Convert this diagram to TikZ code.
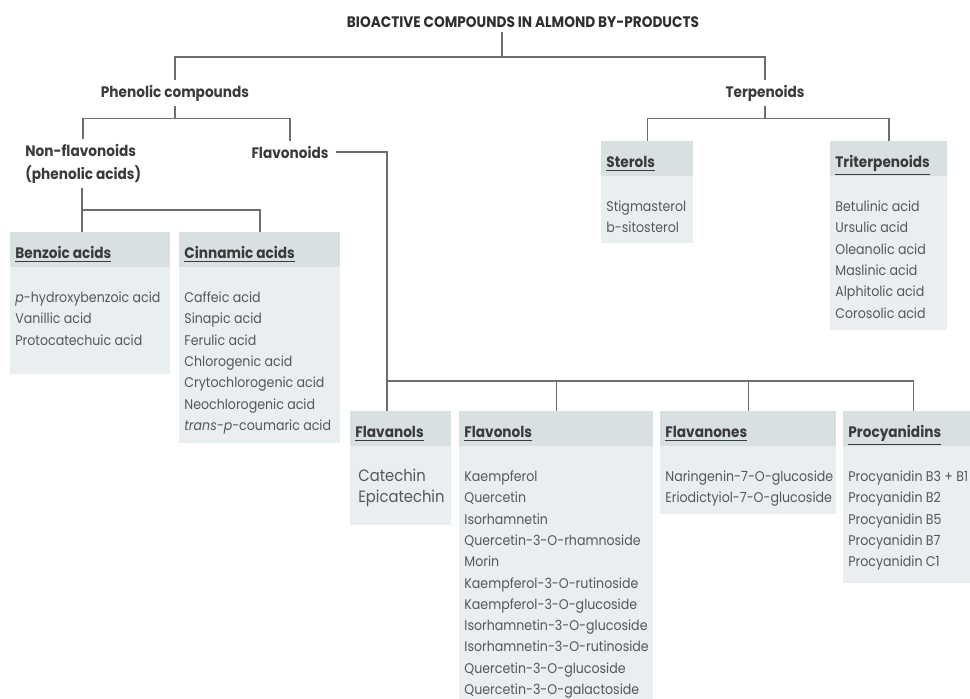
\documentclass[tikz,border=0pt]{standalone}
\usepackage{fontspec}
\setmainfont{Poppins}[FakeStretch=0.9]
\usetikzlibrary{positioning}

\definecolor{boxbody}{HTML}{E9EEF0}
\definecolor{boxhead}{HTML}{D8E0E2}
\definecolor{titlegray}{HTML}{2E2E2E}
\definecolor{headgray}{HTML}{3A3A3A}
\definecolor{entrygray}{HTML}{575757}
\definecolor{linegray}{HTML}{6E6E6E}

\tikzset{
  toptitle/.style={font=\fontsize{7.6}{9}\selectfont\bfseries, text=titlegray, inner sep=2pt},
  branch/.style={font=\fontsize{7.6}{11.5}\selectfont\bfseries, text=headgray, align=left, inner xsep=0pt, inner ysep=2pt},
  groupbox/.style={fill=boxbody, anchor=north west, inner sep=0pt},
  grouphead/.style={fill=boxhead, anchor=north west, inner sep=0pt, minimum height=17.5pt},
  headtext/.style={font=\fontsize{7.6}{9}\selectfont\bfseries, text=headgray, anchor=base west, inner sep=0pt},
  entry/.style={font=\fontsize{7.0}{9}\selectfont, text=entrygray, anchor=base west, inner sep=0pt},
  link/.style={draw=linegray, line width=0.9pt}
}

% box with shaded heading and a list of compounds
\newcommand{\compbox}[7]{%
  \node[groupbox, minimum width=#4*0.5pt, minimum height=#5*0.5pt] (#1) at (#2,#3) {};
  \node[grouphead, minimum width=#4*0.5pt] (#1-head) at (#1.north west) {};
  \node[headtext] (#1-title) at ([xshift=2.5pt, yshift=-13.2pt]#1-head.north west) {\underline{#6}};
  \foreach \t [count=\i from 0] in {#7}
    \node[entry] (#1-\i) at ([xshift=2.5pt, yshift={-35.3pt-\i*10.65pt}]#1.north west) {\t};
}

\begin{document}
\begin{tikzpicture}[x=0.5pt, y=-0.5pt]
    \useasboundingbox (0,0) rectangle (970,699);

    % headings
    \node[toptitle] (title) at (523,22) {BIOACTIVE COMPOUNDS IN ALMOND BY-PRODUCTS};
    \node[branch] (phen) at (175,93) {Phenolic compounds};
    \node[branch] (terp) at (765,93) {Terpenoids};
    \node[branch, anchor=west] (nonflav) at (25,163.5) {Non-flavonoids\\(phenolic acids)};
    \node[branch] (flav) at (290,152) {Flavonoids};

    % phenolic acids
    \compbox{benz}{10}{232}{160}{142}{Benzoic acids}
      {{\itshape p}-hydroxybenzoic acid, Vanillic acid, Protocatechuic acid}
    \compbox{cinn}{179}{232}{161}{211}{Cinnamic acids}
      {Caffeic acid, Sinapic acid, Ferulic acid, Chlorogenic acid,
       Crytochlorogenic acid, Neochlorogenic acid, {\itshape trans-p}-coumaric acid}

    % terpenoids
    \compbox{sterols}{601}{141}{92}{102}{Sterols}
      {Stigmasterol, b-sitosterol}
    \compbox{triterp}{830}{141}{117}{189}{Triterpenoids}
      {Betulinic acid, Ursulic acid, Oleanolic acid, Maslinic acid,
       Alphitolic acid, Corosolic acid}

    % flavonoids
    \begin{scope}[entry/.append style={font=\fontsize{8.2}{10}\selectfont, xshift=1.5pt}]
      \compbox{flavanols}{350}{411}{101}{114}{Flavanols}
        {Catechin, Epicatechin}
    \end{scope}
    \compbox{flavonols}{459}{411}{194}{300}{Flavonols}
      {Kaempferol, Quercetin, Isorhamnetin, Quercetin-3-O-rhamnoside, Morin,
       Kaempferol-3-O-rutinoside, Kaempferol-3-O-glucoside,
       Isorhamnetin-3-O-glucoside, Isorhamnetin-3-O-rutinoside,
       Quercetin-3-O-glucoside, Quercetin-3-O-galactoside}
    \compbox{flavanones}{660}{411}{176}{103}{Flavanones}
      {Naringenin-7-O-glucoside, Eriodictyiol-7-O-glucoside}
    \compbox{procy}{843}{411}{140}{172}{Procyanidins}
      {Procyanidin B3 + B1, Procyanidin B2, Procyanidin B5,
       Procyanidin B7, Procyanidin C1}

    % connectors
    \coordinate (topfork) at (502,57);
    \draw[link] (title.south -| topfork) -- (topfork);
    \draw[link] (phen.north) |- (topfork) -| (terp.north);

    \path (phen.south) ++(0,13) coordinate (phenfork);
    \draw[link] (phen.south) -- (phenfork);
    \draw[link] (nonflav.north) |- (phenfork) -| (flav.north);

    \coordinate (nonfork) at (82,210);
    \draw[link] (nonflav.south -| nonfork) -- (nonfork) -- (nonfork |- benz.north);
    \draw[link] (nonfork) -| (cinn.north);

    \path (terp.south) ++(0,13) coordinate (terpfork);
    \draw[link] (terp.south) -- (terpfork);
    \draw[link] (sterols.north) |- (terpfork) -| (triterp.north);

    \coordinate (flvfork) at (387,381);
    \draw[link] ([xshift=3.5pt]flav.east) -| (flvfork) -- (flvfork |- flavanols.north);
    \draw[link] (flvfork) -| (procy.north);
    \draw[link] (flvfork -| flavonols.north) -- (flavonols.north);
    \draw[link] (flvfork -| flavanones.north) -- (flavanones.north);
\end{tikzpicture}
\end{document}
